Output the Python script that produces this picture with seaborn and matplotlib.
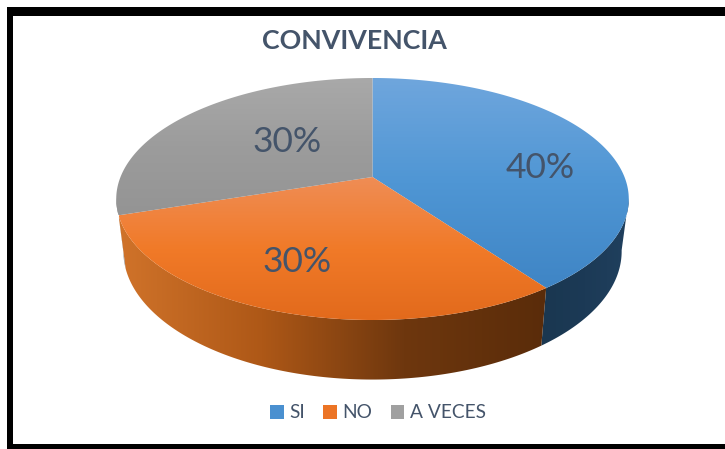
import numpy as np
import matplotlib
matplotlib.use('Agg')
import matplotlib.pyplot as plt
from matplotlib.patches import Polygon, Rectangle, Patch
import seaborn as sns

categories = ['SI', 'NO', 'A VECES']
values = [40, 30, 30]

sns.set_theme(style='white')
plt.rcParams['font.family'] = ['Lato', 'DejaVu Sans']

TEXT = '#44546A'
legend_colors = ['#4A90D0', '#EC7425', '#A0A0A0']

# vertical shading of the top face
top_cmaps = [
    sns.blend_palette(['#6FA6DD', '#4F96D4', '#3F85C5'], as_cmap=True),
    sns.blend_palette(['#EF8D55', '#F17A28', '#E26A1C'], as_cmap=True),
    sns.blend_palette(['#A9A9A9', '#9C9C9C', '#949494'], as_cmap=True),
]
# horizontal shading of the wall
side_cmaps = [
    sns.blend_palette(['#1A3750', '#1C3A56', '#20405E'], as_cmap=True),
    sns.blend_palette(['#D0732A', '#AE5817', '#6E370E', '#5A2C0A'], as_cmap=True),
    sns.blend_palette(['#8C8C8C', '#8C8C8C'], as_cmap=True),
]

# perspective of the disc
CX, A = 372.5, 0.1818


def project(t, y0, sx, sy):
    x, y = np.sin(t), -np.cos(t)
    w = 1 - A * y
    return CX + sx * x / w, y0 + sy * y / w


def top_rim(t):
    return project(t, 177, 252, 117)


def bottom_rim(t):
    return project(t, 228, 245, 124)


def shaded(ax, pts, cmap, vertical, z):
    poly = Polygon(pts, closed=True, fc='none', ec='none', zorder=z)
    ax.add_patch(poly)
    xs, ys = pts[:, 0], pts[:, 1]
    grad = np.linspace(0, 1, 256)
    img = grad[:, None] if vertical else grad[None, :]
    ext = (xs.min(), xs.max(), ys.max(), ys.min())
    im = ax.imshow(img, cmap=cmap, extent=ext, aspect='auto', origin='upper', zorder=z)
    im.set_clip_path(poly)


fig = plt.figure(figsize=(7.25, 4.49), dpi=100)
ax = fig.add_axes([0, 0, 1, 1])

edges = np.radians(np.cumsum([0] + values) * 360 / sum(values))

# walls first, only the part facing the viewer
for i in range(len(values)):
    lo = max(edges[i], np.radians(100))
    hi = min(edges[i + 1], np.radians(260))
    if hi <= lo:
        continue
    t = np.linspace(lo, hi, 120)
    tx, ty = top_rim(t)
    bx, by = bottom_rim(t)
    pts = np.column_stack([np.r_[tx, bx[::-1]], np.r_[ty, by[::-1]]])
    shaded(ax, pts, side_cmaps[i], False, 2)

# top face
for i in range(len(values)):
    t = np.linspace(edges[i], edges[i + 1], 200)
    tx, ty = top_rim(t)
    pts = np.column_stack([np.r_[CX, tx], np.r_[177, ty]])
    shaded(ax, pts, top_cmaps[i], True, 3)

# percent labels
label_xy = [(540, 168), (297, 262), (287, 142)]
total = sum(values)
for v, (lx, ly) in zip(values, label_xy):
    ax.text(lx, ly, f'{v * 100 / total:.0f}%', color=TEXT, fontsize=25.5,
            ha='center', va='center', zorder=5)

ax.text(354.5, 41, 'CONVIVENCIA', color=TEXT, fontsize=19.3, fontweight='bold',
        ha='center', va='center', zorder=5)

# black frame of the screenshot, open on the right
for x, y, w, h in [(7, 7, 718, 8.5), (7, 7, 5.6, 442), (7, 443.5, 718, 5.5)]:
    ax.add_patch(Rectangle((x, y), w, h, fc='black', ec='none', zorder=6))

ax.set_xlim(0, 725)
ax.set_ylim(449, 0)
ax.axis('off')

handles = [Patch(fc=c, ec='none') for c in legend_colors]
fig.legend(handles, categories, loc='center', bbox_to_anchor=(378 / 725, 1 - 413 / 449), ncol=3,
           frameon=False, fontsize=13.8, labelcolor=TEXT, handlelength=0.7, handleheight=0.7,
           handletextpad=0.3, columnspacing=0.95)

fig.savefig('out.png', dpi=100)
